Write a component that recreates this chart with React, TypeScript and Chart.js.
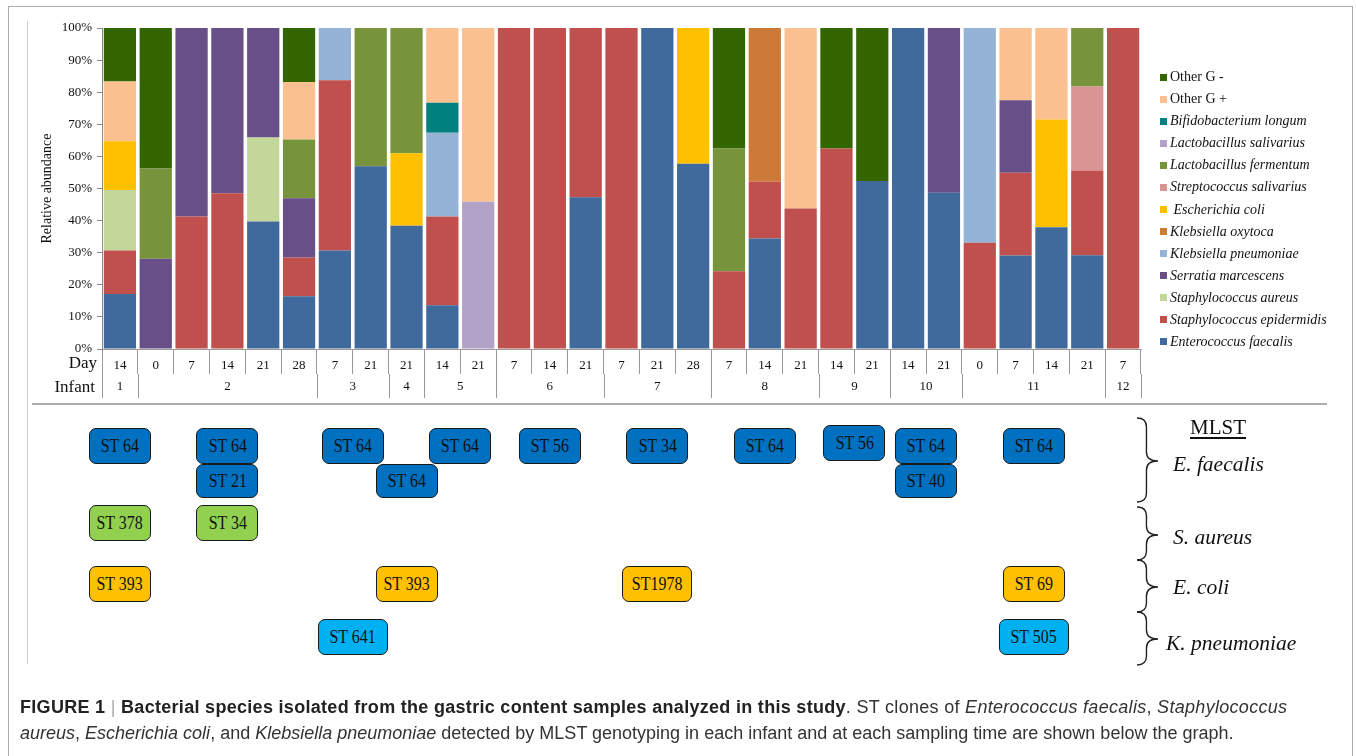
import React, { useEffect, useRef, useState } from 'react';
import { Chart, registerables } from 'chart.js';

Chart.register(...registerables);

const SERIF = '"Liberation Serif", "DejaVu Serif", serif';
const SANS = '"Liberation Sans", Arial, sans-serif';

// ---- data ----
const dayLabels = ['14', '0', '7', '14', '21', '28', '7', '21', '21', '14', '21', '7', '14', '21', '7', '21', '28', '7', '14', '21', '14', '21', '14', '21', '0', '7', '14', '21', '7'];
const columnInfant = [1, 2, 2, 2, 2, 2, 3, 3, 4, 5, 5, 6, 6, 6, 7, 7, 7, 8, 8, 8, 9, 9, 10, 10, 11, 11, 11, 11, 12];

const seriesNames = [
  'Enterococcus faecalis',
  'Staphylococcus epidermidis',
  'Staphylococcus aureus',
  'Serratia marcescens',
  'Klebsiella pneumoniae',
  'Klebsiella oxytoca',
  ' Escherichia coli',
  'Streptococcus salivarius',
  'Lactobacillus fermentum',
  'Lactobacillus salivarius',
  'Bifidobacterium longum',
  'Other G +',
  'Other G -',
];
const seriesColors = ['#40699C', '#C0504D', '#C4D79B', '#684F87', '#95B3D7', '#CC7A38', '#FFC000', '#D99594', '#77933C', '#B3A2C7', '#00807F', '#FAC090', '#336600'];

const enterococcusFaecalis = [17.1, 0, 0, 0, 39.7, 16.4, 30.7, 56.9, 38.4, 13.6, 0, 0, 0, 47.3, 0, 100, 57.7, 0, 34.4, 0, 0, 52.3, 100, 48.7, 0, 29.1, 37.9, 29.2, 0];
const staphEpidermidis = [13.6, 0, 41.3, 48.5, 0, 12.1, 53.0, 0, 0, 27.7, 0, 100, 100, 52.7, 100, 0, 0, 24.2, 17.7, 43.8, 62.5, 0, 0, 0, 33.1, 25.8, 0, 26.4, 100];
const staphAureus = [18.8, 0, 0, 0, 26.2, 0, 0, 0, 0, 0, 0, 0, 0, 0, 0, 0, 0, 0, 0, 0, 0, 0, 0, 0, 0, 0, 0, 0, 0];
const serratiaMarcescens = [0, 28.1, 58.7, 51.5, 34.1, 18.5, 0, 0, 0, 0, 0, 0, 0, 0, 0, 0, 0, 0, 0, 0, 0, 0, 0, 51.3, 0, 22.6, 0, 0, 0];
const klebsiellaPneumoniae = [0, 0, 0, 0, 0, 0, 16.3, 0, 0, 26.1, 0, 0, 0, 0, 0, 0, 0, 0, 0, 0, 0, 0, 0, 0, 66.9, 0, 0, 0, 0];
const klebsiellaOxytoca = [0, 0, 0, 0, 0, 0, 0, 0, 0, 0, 0, 0, 0, 0, 0, 0, 0, 0, 47.9, 0, 0, 0, 0, 0, 0, 0, 0, 0, 0];
const escherichiaColi = [15.2, 0, 0, 0, 0, 0, 0, 0, 22.6, 0, 0, 0, 0, 0, 0, 0, 42.3, 0, 0, 0, 0, 0, 0, 0, 0, 0, 33.6, 0, 0];
const streptococcusSalivarius = [0, 0, 0, 0, 0, 0, 0, 0, 0, 0, 0, 0, 0, 0, 0, 0, 0, 0, 0, 0, 0, 0, 0, 0, 0, 0, 0, 26.2, 0];
const lactobacillusFermentum = [0, 28.1, 0, 0, 0, 18.3, 0, 43.1, 39.0, 0, 0, 0, 0, 0, 0, 0, 0, 38.3, 0, 0, 0, 0, 0, 0, 0, 0, 0, 18.2, 0];
const lactobacillusSalivarius = [0, 0, 0, 0, 0, 0, 0, 0, 0, 0, 45.9, 0, 0, 0, 0, 0, 0, 0, 0, 0, 0, 0, 0, 0, 0, 0, 0, 0, 0];
const bifidobacteriumLongum = [0, 0, 0, 0, 0, 0, 0, 0, 0, 9.3, 0, 0, 0, 0, 0, 0, 0, 0, 0, 0, 0, 0, 0, 0, 0, 0, 0, 0, 0];
const otherGPositive = [18.6, 0, 0, 0, 0, 17.9, 0, 0, 0, 23.3, 54.1, 0, 0, 0, 0, 0, 0, 0, 0, 56.2, 0, 0, 0, 0, 0, 22.5, 28.5, 0, 0];
const otherGNegative = [16.7, 43.8, 0, 0, 0, 16.8, 0, 0, 0, 0, 0, 0, 0, 0, 0, 0, 0, 37.5, 0, 0, 37.5, 47.7, 0, 0, 0, 0, 0, 0, 0];

const seriesValues = [
  enterococcusFaecalis, staphEpidermidis, staphAureus, serratiaMarcescens, klebsiellaPneumoniae,
  klebsiellaOxytoca, escherichiaColi, streptococcusSalivarius, lactobacillusFermentum,
  lactobacillusSalivarius, bifidobacteriumLongum, otherGPositive, otherGNegative,
];

const yTicks = [0, 10, 20, 30, 40, 50, 60, 70, 80, 90, 100];

// MLST clones
const mlstInfant = [1, 2, 3, 5, 6, 7, 8, 9, 10, 11, 2, 4, 10, 1, 2, 1, 4, 7, 11, 3, 11];
const mlstSpecies = ['ef', 'ef', 'ef', 'ef', 'ef', 'ef', 'ef', 'ef', 'ef', 'ef', 'ef', 'ef', 'ef', 'sa', 'sa', 'ec', 'ec', 'ec', 'ec', 'kp', 'kp'];
const mlstLevel = [0, 0, 0, 0, 0, 0, 0, 0, 0, 0, 1, 1, 1, 0, 0, 0, 0, 0, 0, 0, 0];
const mlstType = ['ST 64', 'ST 64', 'ST 64', 'ST 64', 'ST 56', 'ST 34', 'ST 64', 'ST 56', 'ST 64', 'ST 64', 'ST 21', 'ST 64', 'ST 40', 'ST 378', 'ST 34', 'ST 393', 'ST 393', 'ST1978', 'ST 69', 'ST 641', 'ST 505'];
const mlstGroups = ['ef', 'sa', 'ec', 'kp'];
const mlstGroupNames = ['E. faecalis', 'S. aureus', 'E. coli', 'K. pneumoniae'];

// ---- styles (not data) ----
const mlstColor: Record<string, string> = { ef: '#0070C0', sa: '#92D050', ec: '#FFC000', kp: '#00B0F0' };
const mlstRowCenter: Record<string, number> = { ef: 446, sa: 523, ec: 584, kp: 637 };
const braceSpans = [[418, 502, 461], [507, 560, 535], [560, 612, 587], [612, 665, 639]];
const labelCenters = [464, 537, 587, 643];

const tablePlugin = {
  id: 'dayInfantTable',
  afterDraw(chart: any) {
    const x = chart.scales.x;
    const ctx = chart.ctx;
    const n = dayLabels.length;
    const step = x.getPixelForValue(1) - x.getPixelForValue(0);
    const axisY = chart.chartArea.bottom;
    const row1 = axisY + 25;
    const row2 = axisY + 49;
    ctx.save();
    ctx.strokeStyle = '#9a9a9a';
    ctx.lineWidth = 1;
    ctx.fillStyle = '#111';
    ctx.font = '13px ' + SERIF;
    ctx.textAlign = 'center';
    ctx.textBaseline = 'middle';
    let start = 0;
    const bounds: number[] = [x.getPixelForValue(0) - step / 2];
    for (let i = 1; i <= n; i++) {
      if (i === n || columnInfant[i] !== columnInfant[start]) {
        const left = x.getPixelForValue(start) - step / 2;
        const right = x.getPixelForValue(i - 1) + step / 2;
        ctx.fillText(String(columnInfant[start]), (left + right) / 2, (row1 + row2) / 2 + 1);
        bounds.push(right);
        start = i;
      }
    }
    bounds.forEach((b) => {
      const xx = Math.round(b) + 0.5;
      ctx.beginPath();
      ctx.moveTo(xx, row1);
      ctx.lineTo(xx, row2);
      ctx.stroke();
    });
    ctx.font = '17px ' + SERIF;
    ctx.textAlign = 'right';
    ctx.fillText('Day', 97, (axisY + row1) / 2 + 2);
    ctx.fillText('Infant', 95, (row1 + row2) / 2 + 2);
    ctx.restore();
  },
};

export default function App() {
  const canvasRef = useRef<HTMLCanvasElement | null>(null);
  const [centers, setCenters] = useState<Record<number, number> | null>(null);

  useEffect(() => {
    const canvas = canvasRef.current;
    if (!canvas) return;
    const chart = new Chart(canvas, {
      type: 'bar',
      data: {
        labels: dayLabels,
        datasets: seriesNames.map((name, i) => ({
          label: name,
          data: seriesValues[i],
          backgroundColor: seriesColors[i],
          borderWidth: 0,
          barPercentage: 0.9,
          categoryPercentage: 1.0,
        })),
      },
      options: {
        responsive: false,
        animation: false,
        devicePixelRatio: 1,
        layout: { padding: { left: 35, top: 28, right: 215, bottom: 0 } },
        plugins: { legend: { display: false }, tooltip: { enabled: false } },
        scales: {
          x: {
            stacked: true,
            offset: true,
            grid: { offset: true, drawOnChartArea: false, drawTicks: true, tickLength: 25, color: '#9a9a9a', lineWidth: 1 },
            border: { display: true, color: '#9a9a9a' },
            ticks: { autoSkip: false, maxRotation: 0, padding: -16, color: '#111', font: { family: SERIF, size: 13 } },
            afterFit: (s: any) => { s.height = 55; },
          },
          y: {
            stacked: true,
            min: 0,
            max: 100,
            afterBuildTicks: (s: any) => { s.ticks = yTicks.map((v) => ({ value: v })); },
            grid: { drawOnChartArea: false, drawTicks: true, tickLength: 5, color: '#8a8a8a' },
            border: { display: true, color: '#8a8a8a' },
            ticks: { padding: 5, color: '#111', font: { family: SERIF, size: 13 }, callback: (v: any) => v + '%' },
            title: { display: true, text: 'Relative abundance', color: '#111', font: { family: SERIF, size: 14 }, padding: { top: 4, bottom: 4 } },
            afterFit: (s: any) => { s.width = 67; },
          },
        },
      },
      plugins: [tablePlugin],
    });
    const x = chart.scales.x;
    const step = x.getPixelForValue(1) - x.getPixelForValue(0);
    const lefts: Record<number, number> = {};
    const rights: Record<number, number> = {};
    columnInfant.forEach((inf, i) => {
      const px = x.getPixelForValue(i);
      if (lefts[inf] === undefined) lefts[inf] = px - step / 2;
      rights[inf] = px + step / 2;
    });
    const res: Record<number, number> = {};
    Object.keys(lefts).forEach((k) => {
      const key = Number(k);
      res[key] = (lefts[key] + rights[key]) / 2;
    });
    setCenters(res);
    return () => chart.destroy();
  }, []);

  const legendItems = seriesNames.map((n, i) => ({ n, c: seriesColors[i] })).reverse();

  const bracePath = (y0: number, y1: number, ym: number) => {
    const x0 = 1137;
    const w = 21;
    const xm = x0 + w * 0.45;
    const r = 9;
    return `M ${x0} ${y0} Q ${xm} ${y0} ${xm} ${y0 + r} L ${xm} ${ym - r} Q ${xm} ${ym} ${x0 + w} ${ym} Q ${xm} ${ym} ${xm} ${ym + r} L ${xm} ${y1 - r} Q ${xm} ${y1} ${x0} ${y1}`;
  };

  return (
    <div style={{ position: 'absolute', left: 0, top: 0, width: 1356, height: 756, overflow: 'hidden', background: '#fff' }}>
      {/* frames */}
      <div style={{ position: 'absolute', left: 8, top: 6, width: 1343, height: 800, borderLeft: '1.5px solid #aaa', borderTop: '1.5px solid #aaa', borderRight: '1.5px solid #aaa' }} />
      <div style={{ position: 'absolute', left: 27, top: 21, width: 1, height: 643, background: '#cfcfcf' }} />
      <div style={{ position: 'absolute', left: 32, top: 403, width: 1295, height: 2, background: '#aaa' }} />

      <canvas ref={canvasRef} width={1356} height={404} style={{ position: 'absolute', left: 0, top: 0, display: 'block', width: 1356, height: 404 }} />

      {/* legend */}
      <div style={{ position: 'absolute', left: 1160, top: 66, fontFamily: SERIF, fontSize: 14, color: '#111' }}>
        {legendItems.map((it, k) => (
          <div key={k} style={{ height: 22.08, display: 'flex', alignItems: 'center', whiteSpace: 'pre' }}>
            <span style={{ display: 'inline-block', width: 7, height: 7, background: it.c, marginRight: 3 }} />
            <span style={{ fontStyle: it.n.startsWith('Other') ? 'normal' : 'italic' }}>{it.n}</span>
          </div>
        ))}
      </div>

      {/* MLST boxes */}
      {centers && mlstType.map((t, i) => {
        const sp = mlstSpecies[i];
        const wide = sp === 'kp' || t.indexOf(' ') < 0;
        const w = wide ? 70 : 62;
        const h = mlstLevel[i] === 1 ? 34 : 36;
        const cy = mlstRowCenter[sp] + (mlstLevel[i] === 1 ? 34.5 : 0) - (t === 'ST 56' && mlstInfant[i] === 9 ? 3 : 0);
        const cx = centers[mlstInfant[i]];
        return (
          <div key={i} style={{
            position: 'absolute', left: cx - w / 2, top: cy - h / 2, width: w, height: h, boxSizing: 'border-box',
            background: mlstColor[sp], border: '1.5px solid #1a1a1a', borderRadius: 7,
            display: 'flex', alignItems: 'center', justifyContent: 'center',
            fontFamily: SERIF, fontSize: 19, color: '#111', whiteSpace: 'pre',
          }}>
            <span style={{ display: 'inline-block', transform: 'scaleX(0.84)' }}>{t}</span>
          </div>
        );
      })}

      {/* braces */}
      <svg width={1356} height={756} style={{ position: 'absolute', left: 0, top: 0 }}>
        {braceSpans.map((b, i) => (
          <path key={i} d={bracePath(b[0], b[1], b[2])} fill="none" stroke="#222" strokeWidth={1.4} />
        ))}
      </svg>
      <div style={{ position: 'absolute', left: 1190, top: 415, fontFamily: SERIF, fontSize: 21, color: '#111', textDecoration: 'underline', textUnderlineOffset: 3 }}>MLST</div>
      {mlstGroups.map((g, i) => (
        <div key={g} style={{ position: 'absolute', left: g === 'kp' ? 1166 : 1173, top: labelCenters[i] - 13, height: 26, lineHeight: '26px', fontFamily: SERIF, fontStyle: 'italic', fontSize: 21.5, color: '#111', whiteSpace: 'nowrap' }}>{mlstGroupNames[i]}</div>
      ))}

      {/* caption */}
      <div style={{ position: 'absolute', left: 20, top: 694, fontFamily: SANS, fontSize: 18, lineHeight: '26px', color: '#333', whiteSpace: 'nowrap' }}>
        <div style={{ letterSpacing: 0.3 }}><b style={{ color: '#222' }}>FIGURE 1</b> <span style={{ color: '#aaa' }}>|</span> <b style={{ color: '#222' }}>Bacterial species isolated from the gastric content samples analyzed in this study</b>. ST clones of <i>Enterococcus faecalis</i>, <i>Staphylococcus</i></div>
        <div><i>aureus</i>, <i>Escherichia coli</i>, and <i>Klebsiella pneumoniae</i> detected by MLST genotyping in each infant and at each sampling time are shown below the graph.</div>
      </div>
    </div>
  );
}
